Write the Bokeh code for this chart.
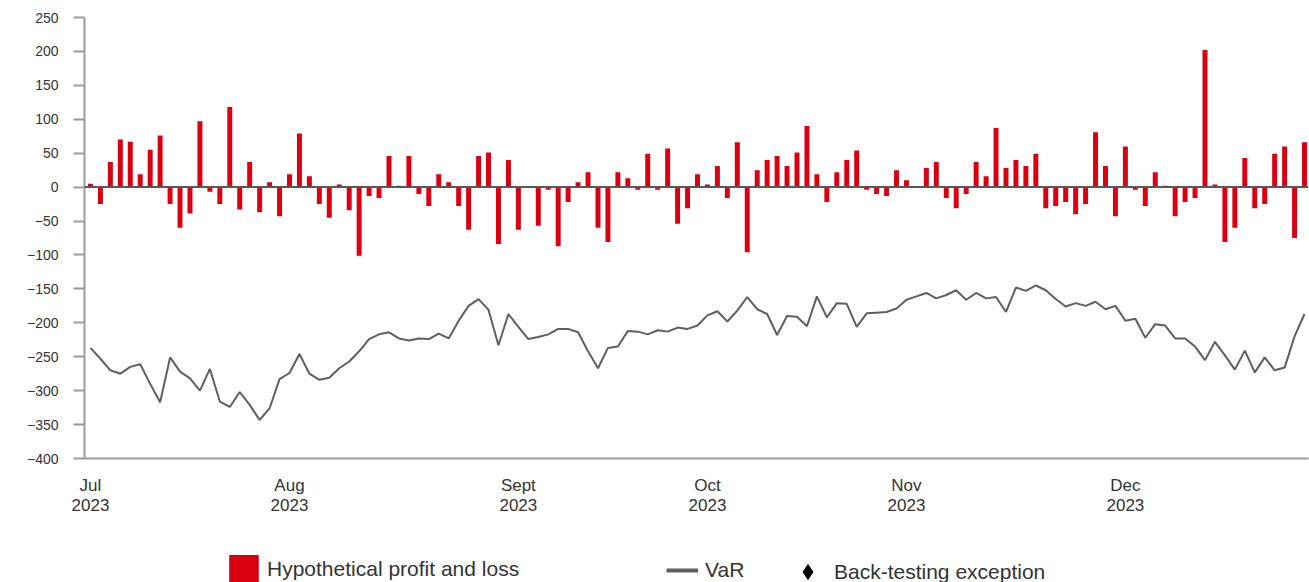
from bokeh.plotting import figure
from bokeh.layouts import column
from bokeh.models import Range1d, FixedTicker, Span, Legend, LegendItem
from bokeh.embed import file_html
from bokeh.resources import INLINE

# Daily hypothetical P&L (trading days, Jul-Dec 2023)
pnl = [5, -25, 37, 70, 67, 19, 55, 76, -25, -60,
       -39, 97, -7, -25, 118, -33, 37, -37, 7, -43,
       19, 79, 16, -25, -45, 4, -34, -101, -13, -16,
       46, 2, 46, -10, -28, 19, 7, -28, -63, 46,
       51, -84, 40, -63, 0, -57, -4, -87, -22, 7,
       22, -60, -81, 22, 13, -4, 49, -4, 57, -54,
       -31, 19, 4, 31, -16, 66, -96, 25, 40, 46,
       31, 51, 90, 19, -22, 22, 40, 54, -4, -10,
       -13, 25, 10, 0, 28, 37, -16, -31, -10, 37,
       16, 87, 28, 40, 31, 49, -31, -28, -22, -40,
       -25, 81, 31, -43, 60, -4, -28, 22, 2, -43,
       -22, -16, 202, 4, -81, -60, 43, -31, -25, 49,
       60, -75, 66]

# Daily VaR
var = [-237, -253, -270, -275, -265, -261, -290, -317, -251, -272,
       -282, -300, -268, -316, -324, -302, -321, -343, -326, -283,
       -274, -246, -275, -284, -281, -267, -257, -242, -224, -217,
       -214, -223, -226, -223, -224, -216, -223, -197, -175, -165,
       -181, -233, -187, -206, -224, -221, -217, -209, -209, -214,
       -242, -267, -237, -235, -212, -213, -217, -211, -213, -207,
       -209, -204, -189, -183, -198, -182, -162, -180, -187, -218,
       -190, -191, -205, -161, -192, -171, -172, -206, -186, -185,
       -184, -179, -166, -161, -156, -164, -159, -152, -166, -156,
       -164, -162, -184, -148, -153, -145, -152, -165, -176, -171,
       -175, -169, -180, -175, -197, -194, -222, -202, -204, -223,
       -223, -235, -255, -228, -248, -269, -241, -273, -251, -270,
       -266, -220, -187]

month_labels = ["Jul\n2023", "Aug\n2023", "Sept\n2023", "Oct\n2023", "Nov\n2023", "Dec\n2023"]
month_start = [0, 20, 43, 62, 82, 104]
y_ticks = list(range(-400, 251, 50))
legend_labels = ["Hypothetical profit and loss", "VaR", "Back-testing exception"]

day = list(range(len(pnl)))

FONT = "Liberation Sans"
RED = "#db0011"
GREY = "#5f5f63"
TXT = "#333333"
AXIS = "#9a9a9a"

p = figure(width=1309, height=545, output_backend="svg", toolbar_location=None,
           x_range=Range1d(-0.6, 122.4), y_range=Range1d(-400, 250),
           min_border_left=84, min_border_right=1, min_border_top=17, min_border_bottom=87)

p.xgrid.visible = False
p.ygrid.visible = False
p.outline_line_color = None

p.vbar(x=day, top=pnl, bottom=0, width=0.5, fill_color=RED, line_color=None)
p.line(day, var, line_color=GREY, line_width=2)

p.add_layout(Span(location=0, dimension="width", line_color="#58585a", line_width=2))

# axes
p.yaxis.ticker = FixedTicker(ticks=y_ticks)
p.yaxis.axis_line_color = AXIS
p.yaxis.axis_line_width = 2
p.yaxis.major_tick_line_color = AXIS
p.yaxis.major_tick_line_width = 2
p.yaxis.major_tick_out = 11
p.yaxis.major_tick_in = 0
p.yaxis.minor_tick_line_color = None
p.yaxis.major_label_standoff = 15
p.yaxis.major_label_text_font = FONT
p.yaxis.major_label_text_font_size = "14px"
p.yaxis.major_label_text_color = TXT

p.xaxis.ticker = FixedTicker(ticks=month_start)
p.xaxis.major_label_overrides = {m: l for m, l in zip(month_start, month_labels)}
p.xaxis.axis_line_color = AXIS
p.xaxis.axis_line_width = 2
p.xaxis.major_tick_line_color = None
p.xaxis.minor_tick_line_color = None
p.xaxis.major_tick_out = 0
p.xaxis.major_tick_in = 0
p.xaxis.major_label_standoff = 17
p.xaxis.major_label_text_font = FONT
p.xaxis.major_label_text_font_size = "17px"
p.xaxis.major_label_text_color = TXT
p.xaxis.major_label_text_line_height = 1.1

# legend strip below the chart (its frame is aligned with the chart frame)
q = figure(width=1309, height=37, output_backend="svg", toolbar_location=None,
           x_range=Range1d(0, 1), y_range=Range1d(0, 1),
           min_border_left=84, min_border_right=1, min_border_top=0, min_border_bottom=0)
q.axis.visible = False
q.xgrid.visible = False
q.ygrid.visible = False
q.outline_line_color = None

# legend-only renderers (hidden; used only for their legend swatches)
leg_bar = q.vbar(x=[0.5], top=[1], width=0.5, fill_color=RED, line_color=None, visible=False)
leg_line = q.line([0, 1], [0.5, 0.5], line_color=GREY, line_width=4, visible=False)
leg_diam = q.scatter([0.5], [0.5], marker="diamond",
                     fill_color="black", line_color="black", visible=False)


def mk_legend(item, loc, gw, gh, standoff):
    lg = Legend(items=[item], location=loc, orientation="horizontal",
                glyph_width=gw, glyph_height=gh, label_standoff=standoff,
                padding=0, margin=0, spacing=0,
                border_line_alpha=0, background_fill_alpha=0,
                label_text_font=FONT, label_text_font_size="21px",
                label_text_color=TXT)
    q.add_layout(lg, "center")


mk_legend(LegendItem(label=legend_labels[0], renderers=[leg_bar]), (141, -4), 37, 35, 5)
mk_legend(LegendItem(label=legend_labels[1], renderers=[leg_line]), (582, -2), 32, 28, 7)
mk_legend(LegendItem(label=legend_labels[2], renderers=[leg_diam]), (705, -8), 37, 37, 8)

layout = column(p, q, spacing=0)
open("out.html", "w").write(file_html(layout, INLINE))
